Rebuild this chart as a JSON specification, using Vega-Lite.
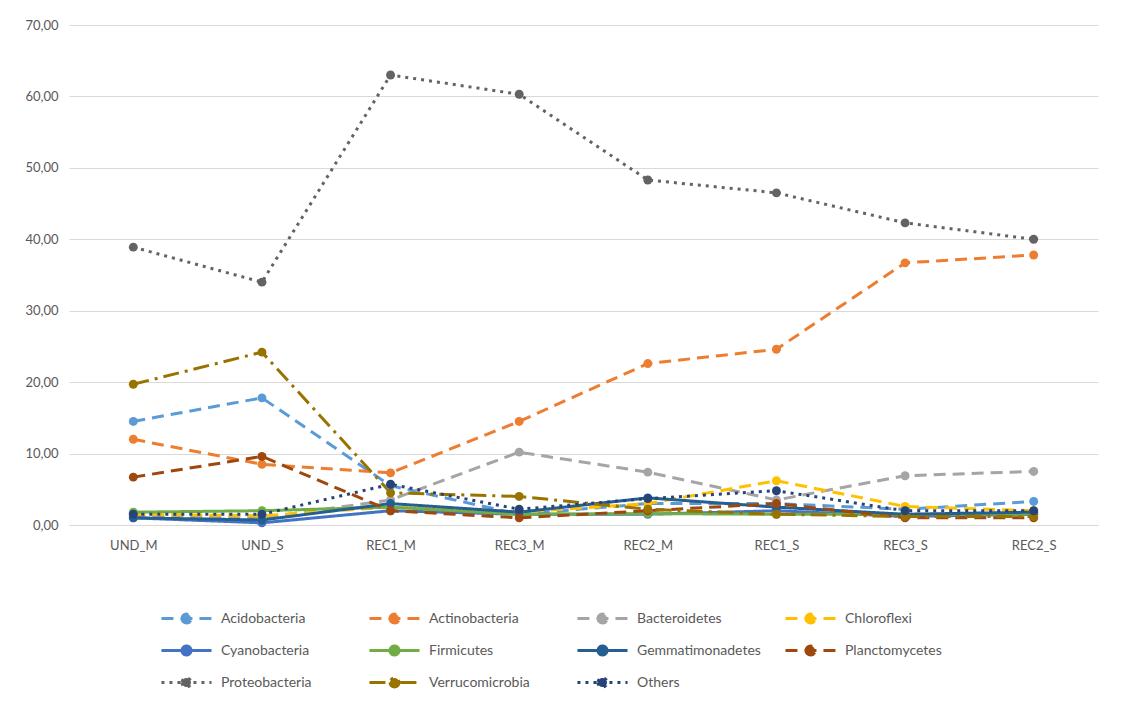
{
  "$schema": "https://vega.github.io/schema/vega-lite/v6.json",
  "width": 1029,
  "height": 500,
  "autosize": {"type": "none"},
  "padding": {"left": 69, "top": 25, "right": 38, "bottom": 177},
  "background": "white",
  "config": {
    "font": "Lato",
    "view": {"stroke": null},
    "axis": {"labelFont": "Lato", "labelColor": "#595959", "labelFontSize": 13}
  },
  "datasets": {
    "rows": [
      {"sample": "UND_M", "phylum": "Acidobacteria", "value": 14.5},
      {"sample": "UND_S", "phylum": "Acidobacteria", "value": 17.8},
      {"sample": "REC1_M", "phylum": "Acidobacteria", "value": 5.5},
      {"sample": "REC3_M", "phylum": "Acidobacteria", "value": 1.5},
      {"sample": "REC2_M", "phylum": "Acidobacteria", "value": 3.0},
      {"sample": "REC1_S", "phylum": "Acidobacteria", "value": 3.0},
      {"sample": "REC3_S", "phylum": "Acidobacteria", "value": 2.2},
      {"sample": "REC2_S", "phylum": "Acidobacteria", "value": 3.3},
      {"sample": "UND_M", "phylum": "Actinobacteria", "value": 12.0},
      {"sample": "UND_S", "phylum": "Actinobacteria", "value": 8.5},
      {"sample": "REC1_M", "phylum": "Actinobacteria", "value": 7.3},
      {"sample": "REC3_M", "phylum": "Actinobacteria", "value": 14.5},
      {"sample": "REC2_M", "phylum": "Actinobacteria", "value": 22.6},
      {"sample": "REC1_S", "phylum": "Actinobacteria", "value": 24.6},
      {"sample": "REC3_S", "phylum": "Actinobacteria", "value": 36.7},
      {"sample": "REC2_S", "phylum": "Actinobacteria", "value": 37.8},
      {"sample": "UND_M", "phylum": "Bacteroidetes", "value": 1.2},
      {"sample": "UND_S", "phylum": "Bacteroidetes", "value": 1.0},
      {"sample": "REC1_M", "phylum": "Bacteroidetes", "value": 3.5},
      {"sample": "REC3_M", "phylum": "Bacteroidetes", "value": 10.2},
      {"sample": "REC2_M", "phylum": "Bacteroidetes", "value": 7.4},
      {"sample": "REC1_S", "phylum": "Bacteroidetes", "value": 3.5},
      {"sample": "REC3_S", "phylum": "Bacteroidetes", "value": 6.9},
      {"sample": "REC2_S", "phylum": "Bacteroidetes", "value": 7.5},
      {"sample": "UND_M", "phylum": "Chloroflexi", "value": 1.5},
      {"sample": "UND_S", "phylum": "Chloroflexi", "value": 1.3},
      {"sample": "REC1_M", "phylum": "Chloroflexi", "value": 2.5},
      {"sample": "REC3_M", "phylum": "Chloroflexi", "value": 1.8},
      {"sample": "REC2_M", "phylum": "Chloroflexi", "value": 3.0},
      {"sample": "REC1_S", "phylum": "Chloroflexi", "value": 6.2},
      {"sample": "REC3_S", "phylum": "Chloroflexi", "value": 2.6},
      {"sample": "REC2_S", "phylum": "Chloroflexi", "value": 2.0},
      {"sample": "UND_M", "phylum": "Cyanobacteria", "value": 1.0},
      {"sample": "UND_S", "phylum": "Cyanobacteria", "value": 0.3},
      {"sample": "REC1_M", "phylum": "Cyanobacteria", "value": 2.0},
      {"sample": "REC3_M", "phylum": "Cyanobacteria", "value": 1.5},
      {"sample": "REC2_M", "phylum": "Cyanobacteria", "value": 1.5},
      {"sample": "REC1_S", "phylum": "Cyanobacteria", "value": 2.0},
      {"sample": "REC3_S", "phylum": "Cyanobacteria", "value": 1.2},
      {"sample": "REC2_S", "phylum": "Cyanobacteria", "value": 1.5},
      {"sample": "UND_M", "phylum": "Firmicutes", "value": 1.8},
      {"sample": "UND_S", "phylum": "Firmicutes", "value": 2.0},
      {"sample": "REC1_M", "phylum": "Firmicutes", "value": 2.5},
      {"sample": "REC3_M", "phylum": "Firmicutes", "value": 1.5},
      {"sample": "REC2_M", "phylum": "Firmicutes", "value": 1.6},
      {"sample": "REC1_S", "phylum": "Firmicutes", "value": 1.5},
      {"sample": "REC3_S", "phylum": "Firmicutes", "value": 1.5},
      {"sample": "REC2_S", "phylum": "Firmicutes", "value": 1.5},
      {"sample": "UND_M", "phylum": "Gemmatimonadetes", "value": 1.0},
      {"sample": "UND_S", "phylum": "Gemmatimonadetes", "value": 0.7},
      {"sample": "REC1_M", "phylum": "Gemmatimonadetes", "value": 3.0},
      {"sample": "REC3_M", "phylum": "Gemmatimonadetes", "value": 1.8},
      {"sample": "REC2_M", "phylum": "Gemmatimonadetes", "value": 3.8},
      {"sample": "REC1_S", "phylum": "Gemmatimonadetes", "value": 2.5},
      {"sample": "REC3_S", "phylum": "Gemmatimonadetes", "value": 1.5},
      {"sample": "REC2_S", "phylum": "Gemmatimonadetes", "value": 1.8},
      {"sample": "UND_M", "phylum": "Planctomycetes", "value": 6.7},
      {"sample": "UND_S", "phylum": "Planctomycetes", "value": 9.6},
      {"sample": "REC1_M", "phylum": "Planctomycetes", "value": 2.0},
      {"sample": "REC3_M", "phylum": "Planctomycetes", "value": 1.0},
      {"sample": "REC2_M", "phylum": "Planctomycetes", "value": 2.0},
      {"sample": "REC1_S", "phylum": "Planctomycetes", "value": 3.0},
      {"sample": "REC3_S", "phylum": "Planctomycetes", "value": 1.0},
      {"sample": "REC2_S", "phylum": "Planctomycetes", "value": 1.0},
      {"sample": "UND_M", "phylum": "Proteobacteria", "value": 38.9},
      {"sample": "UND_S", "phylum": "Proteobacteria", "value": 34.0},
      {"sample": "REC1_M", "phylum": "Proteobacteria", "value": 63.0},
      {"sample": "REC3_M", "phylum": "Proteobacteria", "value": 60.3},
      {"sample": "REC2_M", "phylum": "Proteobacteria", "value": 48.3},
      {"sample": "REC1_S", "phylum": "Proteobacteria", "value": 46.5},
      {"sample": "REC3_S", "phylum": "Proteobacteria", "value": 42.3},
      {"sample": "REC2_S", "phylum": "Proteobacteria", "value": 40.0},
      {"sample": "UND_M", "phylum": "Verrucomicrobia", "value": 19.7},
      {"sample": "UND_S", "phylum": "Verrucomicrobia", "value": 24.2},
      {"sample": "REC1_M", "phylum": "Verrucomicrobia", "value": 4.5},
      {"sample": "REC3_M", "phylum": "Verrucomicrobia", "value": 4.0},
      {"sample": "REC2_M", "phylum": "Verrucomicrobia", "value": 2.2},
      {"sample": "REC1_S", "phylum": "Verrucomicrobia", "value": 1.5},
      {"sample": "REC3_S", "phylum": "Verrucomicrobia", "value": 1.2},
      {"sample": "REC2_S", "phylum": "Verrucomicrobia", "value": 1.2},
      {"sample": "UND_M", "phylum": "Others", "value": 1.5},
      {"sample": "UND_S", "phylum": "Others", "value": 1.5},
      {"sample": "REC1_M", "phylum": "Others", "value": 5.7},
      {"sample": "REC3_M", "phylum": "Others", "value": 2.2},
      {"sample": "REC2_M", "phylum": "Others", "value": 3.7},
      {"sample": "REC1_S", "phylum": "Others", "value": 4.8},
      {"sample": "REC3_S", "phylum": "Others", "value": 2.0},
      {"sample": "REC2_S", "phylum": "Others", "value": 2.0}
    ]
  },
  "data": {"name": "rows"},
  "mark": {"type": "line", "strokeWidth": 3, "point": {"filled": true, "size": 80, "opacity": 1}},
  "encoding": {
    "x": {
      "field": "sample", "type": "nominal",
      "sort": ["UND_M", "UND_S", "REC1_M", "REC3_M", "REC2_M", "REC1_S", "REC3_S", "REC2_S"],
      "scale": {"type": "point", "padding": 0.5},
      "axis": {"title": null, "labelAngle": 0, "ticks": false, "domainColor": "#D9D9D9", "domainWidth": 1, "labelPadding": 14, "grid": false}
    },
    "y": {
      "field": "value", "type": "quantitative",
      "scale": {"domain": [0, 70], "nice": false},
      "axis": {"title": null, "values": [0, 10, 20, 30, 40, 50, 60, 70], "labelExpr": "replace(format(datum.value, '.2f'), '.', ',')", "domain": false, "ticks": false, "gridColor": "#D9D9D9", "gridWidth": 1, "labelPadding": 11}
    },
    "color": {
      "field": "phylum", "type": "nominal",
      "scale": {
        "domain": ["Acidobacteria", "Actinobacteria", "Bacteroidetes", "Chloroflexi", "Cyanobacteria", "Firmicutes", "Gemmatimonadetes", "Planctomycetes", "Proteobacteria", "Verrucomicrobia", "Others"],
        "range": ["#5B9BD5", "#ED7D31", "#A5A5A5", "#FFC000", "#4472C4", "#70AD47", "#255E91", "#9E480E", "#636363", "#997300", "#264478"]
      },
      "legend": {
        "title": null, "orient": "none", "legendX": 101, "legendY": 577,
        "direction": "horizontal", "columns": 4, "columnPadding": 18, "rowPadding": 5, "gridAlign": "all",
        "symbolType": "M-1.67,0H1.67M-0.3,0a0.3,0.3 0 1,0 0.6,0a0.3,0.3 0 1,0 -0.6,0",
        "symbolSize": 900, "symbolStrokeWidth": 3,
        "labelFont": "Lato", "labelFontSize": 14, "labelColor": "#595959", "labelOffset": 18,
        "encode": {"symbols": {"update": {"fill": {"scale": "color", "field": "value"}}}}
      }
    },
    "strokeDash": {
      "field": "phylum", "type": "nominal",
      "scale": {
        "domain": ["Acidobacteria", "Actinobacteria", "Bacteroidetes", "Chloroflexi", "Cyanobacteria", "Firmicutes", "Gemmatimonadetes", "Planctomycetes", "Proteobacteria", "Verrucomicrobia", "Others"],
        "range": [[12, 7], [12, 7], [12, 7], [12, 7], [1, 0], [1, 0], [1, 0], [12, 7], [3, 5], [16, 6, 3, 6], [3, 5]]
      }
    }
  }
}
